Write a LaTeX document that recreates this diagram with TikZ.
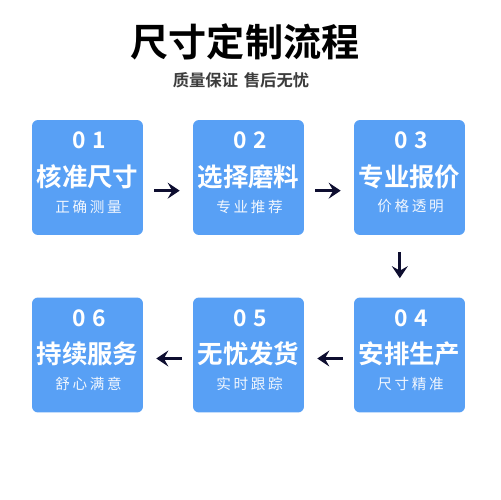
\documentclass[tikz,border=0pt]{standalone}
\usepackage{fontspec}
\newfontfamily\cjk{Noto Sans CJK SC}
\newfontfamily\cjkb{Noto Sans CJK SC Bold}
\newfontfamily\cjkbs[LetterSpace=28]{Noto Sans CJK SC Bold}
\newfontfamily\cjks[LetterSpace=18]{Noto Sans CJK SC}
\usetikzlibrary{arrows.meta}
\definecolor{boxblue}{RGB}{88,160,245}
\definecolor{arrowc}{RGB}{14,14,48}
\definecolor{subgray}{RGB}{60,60,60}
\tikzset{
  card/.style={fill=boxblue, rounded corners=0.12cm, minimum width=2.22cm, minimum height=2.3cm, inner sep=0pt},
  numtxt/.style={text=white, font=\cjkbs\fontsize{13}{13}\selectfont, inner sep=0pt},
  maintxt/.style={text=white, font=\cjkb\fontsize{14.5}{14.5}\selectfont, inner sep=0pt},
  subtxt/.style={text=white!92!boxblue, font=\cjks\fontsize{8.3}{8.3}\selectfont, inner sep=0pt},
  flow/.style={draw=arrowc, line width=0.055cm, -{Stealth[length=0.24cm, width=0.32cm, inset=0.09cm]}, shorten <=0.22cm, shorten >=0.26cm}
}
\begin{document}
\begin{tikzpicture}[x=0.02cm, y=-0.02cm]
\useasboundingbox (0,0) rectangle (500,500);
\fill[white] (0,0) rectangle (500,500);
% title
\node[text=black, font=\cjkb\fontsize{21.7}{21.7}\selectfont, inner sep=0pt] (title) at (245,42) {尺寸定制流程};
\node[text=subgray, font=\cjkb\fontsize{9.3}{9.3}\selectfont, inner sep=0pt] (subtitle) at (241,80) {质量保证\hspace{0.35em}售后无忧};
% cards
\foreach \n/\x/\y/\num/\main/\sub in {
  1/87.5/177.5/01/核准尺寸/正确测量,
  2/248.5/177.5/02/选择磨料/专业推荐,
  3/409.5/177.5/03/专业报价/价格透明,
  4/409.5/355/04/安排生产/尺寸精准,
  5/248.5/355/05/无忧发货/实时跟踪,
  6/87.5/355/06/持续服务/舒心满意}{
  \node[card] (b\n) at (\x,\y) {};
  \node[numtxt] (n\n) at (\x+2,\y-37) {\num};
  \node[maintxt] (m\n) at (\x,\y-1) {\main};
  \node[subtxt] (s\n) at (\x+1,\y+29) {\sub};
}
% arrows
\draw[flow] ([yshift=-7.5]b1.east) -- ([yshift=-7.5]b2.west);
\draw[flow] ([yshift=-7.5]b2.east) -- ([yshift=-7.5]b3.west);
\draw[flow, shorten <=0.34cm, shorten >=0.38cm] ([xshift=-5.5]b3.south) -- ([xshift=-5.5]b4.north);
\draw[flow] ([yshift=-2]b4.west) -- ([yshift=-2]b5.east);
\draw[flow] ([yshift=-2]b5.west) -- ([yshift=-2]b6.east);
\end{tikzpicture}
\end{document}
